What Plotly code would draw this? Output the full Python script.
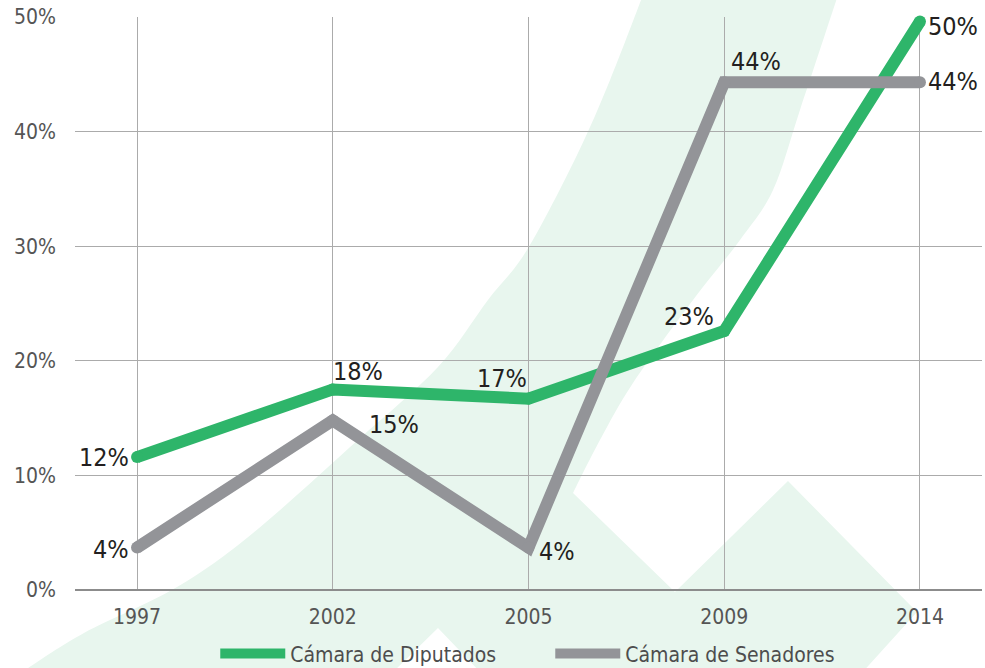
import plotly.graph_objects as go

years = ["1997", "2002", "2005", "2009", "2014"]
diputados = [11.6, 17.5, 16.7, 22.6, 49.6]
senadores = [3.7, 14.8, 3.7, 44.3, 44.3]
diputados_labels = ["12%", "18%", "17%", "23%", "50%"]
senadores_labels = ["4%", "15%", "4%", "44%", "44%"]
y_ticks = [0, 10, 20, 30, 40, 50]
y_tick_labels = ["0%", "10%", "20%", "30%", "40%", "50%"]

GREEN = "#2eb56a"
GRAY = "#939498"
WM = "#e8f6ee"
FONT = "DejaVu Sans Condensed, DejaVu Sans, sans-serif"

W, H = 985, 668
ML, MR, MT, MB = 75, 3, 17, 78
PW, PH = W - ML - MR, H - MT - MB


def P(px, py):
    return (px - ML) / PW, (H - MB - py) / PH


def fmt(pt):
    x, y = P(*pt)
    return f"{x:.4f},{y:.4f}"


def smooth(pts):
    # Catmull-Rom through pts -> cubic bezier segments (without initial move)
    out = []
    n = len(pts)
    for i in range(n - 1):
        p0 = pts[i - 1] if i > 0 else pts[i]
        p1, p2 = pts[i], pts[i + 1]
        p3 = pts[i + 2] if i + 2 < n else pts[i + 1]
        c1 = (p1[0] + (p2[0] - p0[0]) / 6, p1[1] + (p2[1] - p0[1]) / 6)
        c2 = (p2[0] - (p3[0] - p1[0]) / 6, p2[1] - (p3[1] - p1[1]) / 6)
        out.append(f"C {fmt(c1)} {fmt(c2)} {fmt(p2)}")
    return " ".join(out)


# background watermark outline (pixel coordinates of the page)
left_edge = [(25, 670), (84, 633), (177, 587), (253, 533), (358, 440), (438, 367),
             (488, 300), (527, 250), (577, 155), (610, 80), (643, -5)]
right_edge = [(838, -5), (800, 110), (773, 190), (740, 240), (693, 300), (633, 383),
              (600, 440), (573, 493)]
tail = [(675, 592), (788, 481), (917, 612), (860, 675), (483, 675), (438, 628), (390, 675), (25, 675)]
path = ("M " + fmt(left_edge[0]) + " " + smooth(left_edge) + " L " + fmt(right_edge[0]) + " "
        + smooth(right_edge) + " " + " ".join("L " + fmt(p) for p in tail) + " Z")

fig = go.Figure()
for name, vals, col in [("Cámara de Diputados", diputados, GREEN), ("Cámara de Senadores", senadores, GRAY)]:
    fig.add_trace(go.Scatter(x=years, y=vals, mode="lines", name=name,
                             line=dict(color=col, width=12), hoverinfo="skip"))
for vals, col in [(diputados, GREEN), (senadores, GRAY)]:
    fig.add_trace(go.Scatter(x=years, y=vals, mode="markers", showlegend=False,
                             marker=dict(color=col, size=12), cliponaxis=False, hoverinfo="skip"))

# label placements: (xanchor, xshift, yshift)
dip_place = [("right", -6, 0), ("left", -2, 18), ("right", 0, 20), ("right", -8, 15), ("left", 6, -5)]
sen_place = [("right", -6, -2), ("left", 34, -4), ("left", 8, -4), ("left", 5, 21), ("left", 6, 1)]

ann = []
for vals, labs, place in [(diputados, diputados_labels, dip_place), (senadores, senadores_labels, sen_place)]:
    for i, (v, t, (xa, xs, ys)) in enumerate(zip(vals, labs, place)):
        ann.append(dict(x=i, y=v, xref="x", yref="y", text=t, showarrow=False, xanchor=xa,
                        yanchor="middle", xshift=xs, yshift=ys,
                        font=dict(family=FONT, size=25, color="#231f20")))

fig.update_layout(
    width=W, height=H,
    margin=dict(l=ML, r=MR, t=MT, b=MB, autoexpand=False),
    paper_bgcolor="white", plot_bgcolor="rgba(0,0,0,0)",
    shapes=[dict(type="path", path=path, xref="paper", yref="paper",
                 fillcolor=WM, line=dict(width=0), layer="below")],
    annotations=ann,
    showlegend=True,
    legend=dict(orientation="h", x=0.524, xanchor="center", yref="container", y=0.021,
                yanchor="middle", font=dict(family=FONT, size=21, color="#4d4d4d"), itemwidth=65,
                entrywidth=255, bgcolor="rgba(0,0,0,0)"),
    font=dict(family=FONT),
)
fig.update_xaxes(type="category", range=[-0.317, 4.317], showgrid=True, gridcolor="#ababab", gridwidth=1,
                 showline=False, zeroline=False, ticks="", ticklabelstandoff=12,
                 tickfont=dict(family=FONT, size=21, color="#555555"), fixedrange=True)
fig.update_yaxes(range=[0, 50], tickvals=y_ticks, ticktext=y_tick_labels, showgrid=True,
                 gridcolor="#ababab", gridwidth=1, zeroline=True, zerolinecolor="#8c8c8c", zerolinewidth=2,
                 ticks="", ticklabelstandoff=18, tickfont=dict(family=FONT, size=21, color="#555555"),
                 fixedrange=True)

fig.write_html("out.html", config={"displayModeBar": False},
               post_script="document.body.style.margin='0';")
